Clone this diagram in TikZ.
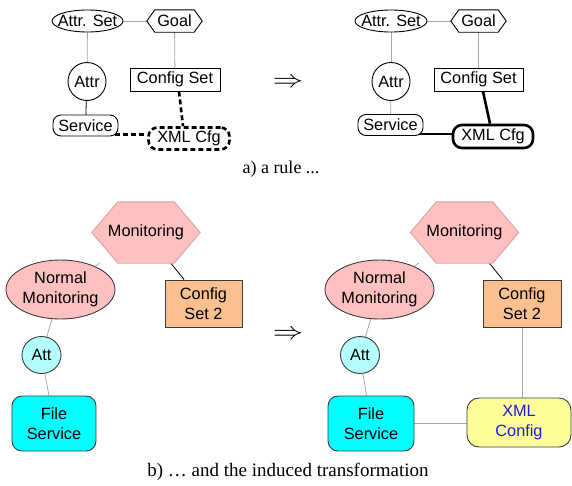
\documentclass[tikz,border=0pt]{standalone}
\usepackage{fontspec}
\setmainfont{Liberation Sans}
\newfontfamily\capfont{Liberation Serif}
\usetikzlibrary{shapes.geometric,calc}

\pgfdeclarelayer{edges}
\pgfdeclarelayer{plates}
\pgfsetlayers{edges,plates,main}

\definecolor{pinkfill}{HTML}{FFC0C0}
\definecolor{pinkline}{HTML}{D9A3A3}
\definecolor{orangefill}{HTML}{FAC08F}
\definecolor{attfill}{HTML}{B3FFFF}
\definecolor{filefill}{HTML}{00FFFF}
\definecolor{xmlfill}{HTML}{FFFF99}
\definecolor{xmltext}{HTML}{1C1CE0}
\definecolor{lightedge}{HTML}{A8A8A8}
\definecolor{outline}{HTML}{3C3C3C}

\tikzset{
  lbl/.style={font=\fontsize{16.3}{19.5}\selectfont, inner sep=-20pt, align=center},
  ellnode/.style={lbl, ellipse, draw, line width=0.9pt, fill=white},
  circnode/.style={lbl, circle, draw, line width=0.9pt, fill=white},
  boxnode/.style={lbl, rectangle, draw, line width=0.9pt, fill=white},
  roundnode/.style={lbl, rectangle, rounded corners=8pt, draw, line width=0.9pt, fill=white},
  hexnode/.style={lbl, rectangle},
  gedge/.style={draw=lightedge, line width=0.8pt},
  bedge/.style={draw=black, line width=0.8pt},
  dashedge/.style={draw=black, line width=2.6pt, dash pattern=on 5pt off 3pt},
  thickedge/.style={draw=black, line width=2.6pt},
  caption/.style={font=\capfont\fontsize{18}{20}\selectfont, inner sep=0pt, anchor=base},
  implies/.style={inner sep=0pt}
}

% hexagon outline behind a named node: name, tip depth, fill, draw
\newcommand\hexoutline[4]{%
  \begin{pgfonlayer}{plates}
    \filldraw[fill=#3, draw=#4, line width=0.9pt]
      (#1.west) -- ([xshift=#2]#1.north west) -- ([xshift=-#2]#1.north east)
      -- (#1.east) -- ([xshift=-#2]#1.south east) -- ([xshift=#2]#1.south west) -- cycle;
  \end{pgfonlayer}}

% the wide implication sign between the two sides
\newcommand\wideimplies{\fontsize{24.88}{26}\selectfont\scalebox{1.22}[1.0]{$\Rightarrow$}}

\begin{document}
\begin{tikzpicture}[x=1pt, y=-1pt]
\useasboundingbox (0,0) rectangle (572,485);

% ---------- a) the rule: left-hand side ----------
\node[ellnode, minimum width=71pt, minimum height=22pt] (as1) at (87.5,21) {Attr. Set};
\node[hexnode, minimum width=55pt, minimum height=22pt] (g1) at (174.5,21) {Goal};
\hexoutline{g1}{8pt}{white}{black}
\node[circnode, minimum size=38pt] (a1) at (87,81.5) {Attr};
\node[boxnode, minimum width=90pt, minimum height=23pt] (cs1) at (175,79.5) {Config Set};
\node[roundnode, minimum width=65pt, minimum height=21pt] (s1) at (85.5,125.5) {Service};
\node[roundnode, rounded corners=9pt, dash pattern=on 5pt off 3pt, line width=2.6pt,
      minimum width=81pt, minimum height=22pt] (x1) at (189,138.5) {XML Cfg};

% ---------- a) the rule: right-hand side ----------
\node[ellnode, minimum width=72pt, minimum height=22pt] (as2) at (391,21) {Attr. Set};
\node[hexnode, minimum width=55pt, minimum height=22pt] (g2) at (478.5,21) {Goal};
\hexoutline{g2}{8pt}{white}{black}
\node[circnode, minimum size=38pt] (a2) at (391,81.5) {Attr};
\node[boxnode, minimum width=89pt, minimum height=23pt] (cs2) at (478.5,79.5) {Config Set};
\node[roundnode, minimum width=65pt, minimum height=21pt] (s2) at (390.5,125) {Service};
\node[roundnode, rounded corners=9pt, line width=2.6pt,
      minimum width=80pt, minimum height=23pt] (x2) at (493,136.5) {XML Cfg};

\node[implies] (arrA) at (288,83) {\wideimplies};
\node[caption] (capA) at (281,173) {a) a rule ...};

% ---------- b) induced transformation: before ----------
\node[hexnode, minimum width=108pt, minimum height=61pt] (m1) at (146,232.5) {Monitoring};
\hexoutline{m1}{26pt}{pinkfill}{pinkline}
\node[ellnode, fill=pinkfill, draw=outline, minimum width=109pt, minimum height=59pt] (nm1) at (60.5,289.5) {Normal\\Monitoring};
\node[boxnode, fill=orangefill, draw=outline, minimum width=77pt, minimum height=47pt] (c1) at (203.5,303.5) {Config\\Set 2};
\node[ellnode, fill=attfill, draw=outline, minimum width=39pt, minimum height=37pt] (at1) at (41.5,355) {Att};
\node[roundnode, rounded corners=10pt, fill=filefill, draw=outline, minimum width=84pt, minimum height=55pt] (fs1) at (54,423.5) {File\\Service};

% ---------- b) induced transformation: after ----------
\node[hexnode, minimum width=108pt, minimum height=61pt] (m2) at (464.5,232.5) {Monitoring};
\hexoutline{m2}{26pt}{pinkfill}{pinkline}
\node[ellnode, fill=pinkfill, draw=outline, minimum width=109pt, minimum height=59pt] (nm2) at (379.5,289.5) {Normal\\Monitoring};
\node[boxnode, fill=orangefill, draw=outline, minimum width=78pt, minimum height=47pt] (c2) at (522,303.5) {Config\\Set 2};
\node[ellnode, fill=attfill, draw=outline, minimum width=39pt, minimum height=37pt] (at2) at (360,355) {Att};
\node[roundnode, rounded corners=10pt, fill=filefill, draw=outline, minimum width=86pt, minimum height=55pt] (fs2) at (371,423.5) {File\\Service};
\node[roundnode, rounded corners=12pt, fill=xmlfill, draw=outline, text=xmltext, minimum width=104pt, minimum height=49pt] (xc2) at (519,422.5) {XML\\Config};

\node[implies] (arrB) at (288,335) {\wideimplies};
\node[caption, font=\capfont\fontsize{19}{21}\selectfont] (capB) at (288,476) {b) … and the induced transformation};

% ---------- connectors, behind the nodes ----------
\begin{pgfonlayer}{edges}
  % rule, left side
  \draw[gedge] (as1) -- (g1);
  \draw[gedge] (as1) -- (a1);
  \draw[gedge] (g1) -- (cs1);
  \draw[bedge] (a1) -- (s1);
  \draw[dashedge] ([xshift=4pt]cs1.south) -- ([xshift=-6pt]x1.north);
  \draw[dashedge] ([xshift=-3pt,yshift=-9pt]s1.east) -- ([yshift=-9pt]s1.east -| x1.west);
  % rule, right side
  \draw[gedge] (as2) -- (g2);
  \draw[gedge] (as2) -- (a2);
  \draw[gedge] (g2) -- (cs2);
  \draw[gedge] (a2) -- (s2);
  \draw[thickedge] ([xshift=4.5pt]cs2.south) -- ([xshift=-3pt]x2.north);
  \draw[thickedge] ([xshift=-6pt,yshift=-9pt]s2.east) -- ([xshift=6pt,yshift=-9pt]s2.east -| x2.west);
  % transformation, before
  \draw[gedge] (m1) -- (nm1);
  \draw[bedge] (m1) -- (c1);
  \draw[gedge] (nm1) -- (at1);
  \draw[gedge] (at1) -- (fs1);
  % transformation, after
  \draw[gedge] (m2) -- (nm2);
  \draw[bedge] (m2) -- (c2);
  \draw[gedge] (nm2) -- (at2);
  \draw[gedge] (at2) -- (fs2);
  \draw[gedge] (c2.south) -- (c2.south |- xc2.north);
  \draw[gedge] (fs2) -- (fs2 -| xc2);
\end{pgfonlayer}
\end{tikzpicture}
\end{document}
